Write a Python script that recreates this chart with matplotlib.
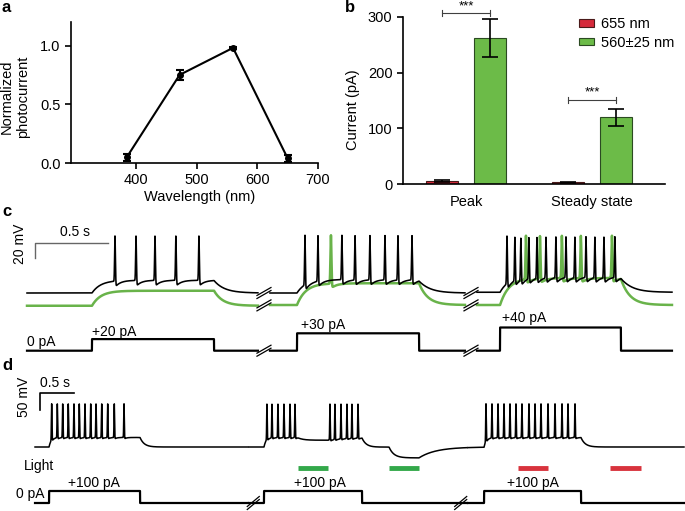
import numpy as np
import matplotlib.pyplot as plt

plt.rcParams['font.family'] = ['Liberation Sans', 'DejaVu Sans']
plt.rcParams['font.size'] = 10

# ---------------- data ----------------
# panel a: action spectrum
wavelength = [385, 472, 560, 650]
photocurrent = [0.05, 0.75, 0.98, 0.04]
photocurrent_err = [0.03, 0.04, 0.01, 0.03]

# panel b: photocurrents
groups = ['Peak', 'Steady state']
red_current = [5, 3]
red_err = [1.5, 1.0]
green_current = [262, 120]
green_err = [34, 15]
sig_level = [307, 151]

# panel c: current clamp, 3 sweeps (s, mV, pA)
c_start = [0.185, 1.849, 3.267]
c_end = [1.767, 3.185, 4.603]
c_step_on = [0.630, 2.034, 3.425]
c_step_off = [1.466, 2.870, 4.253]
c_step_pA = [20, 30, 40]
c_black_rest = [-60, -60, -59]
c_black_plateau = [-43, -42, -38]
c_green_rest = [-77, -76, -76]
c_green_plateau = [-57, -47, -40]
c_black_spikes = [
    [0.788, 0.932, 1.062, 1.205, 1.363],
    [2.089, 2.178, 2.342, 2.432, 2.534, 2.637, 2.726, 2.822],
    [3.473, 3.527, 3.568, 3.623, 3.678, 3.740, 3.808, 3.877, 3.938, 4.014,
     4.075, 4.137, 4.212],
]
c_green_spikes = [
    [],
    [2.267],
    [3.603, 3.699, 3.849, 3.979, 4.192],
]
c_spike_peak = 17

# panel d: current clamp with light, 3 sweeps
d_start = [0.515, 3.662, 6.882]
d_end = [3.647, 6.868, 10.059]
d_step_on = [0.721, 3.882, 7.118]
d_step_off = [2.059, 5.324, 8.544]
d_step_pA = [100, 100, 100]
d_rest = -70
d_plateau = -42
d_spike_peak = 57
d_spikes = [
    [0.760, 0.843, 0.922, 1.004, 1.088, 1.166, 1.250, 1.334, 1.412, 1.496,
     1.584, 1.681, 1.824],
    [3.926, 4.000, 4.088, 4.176, 4.265, 4.338,
     4.853, 4.926, 5.015, 5.103, 5.176, 5.265],
    [7.147, 7.235, 7.324, 7.412, 7.500, 7.588, 7.676, 7.779, 7.868, 7.956,
     8.059, 8.162, 8.265, 8.353, 8.456],
]
green_light_on = [4.382, 5.721]
green_light_off = [4.824, 6.162]
green_light_shift = [-8, -32]
red_light_on = [7.618, 8.971]
red_light_off = [8.059, 9.426]

GREEN_BAR = '#6cbb48'
RED_BAR = '#d52a3b'
GREEN_TRACE = '#69b34a'
GREEN_LIGHT = '#33a84a'
RED_LIGHT = '#d8333d'

W, H = 685, 511
fig = plt.figure(figsize=(W / 100, H / 100), dpi=100)


def box(x0, y0, x1, y1):
    return [x0 / W, 1 - y1 / H, (x1 - x0) / W, (y1 - y0) / H]


def ptext(x, y, s, **kw):
    fig.text(x / W, 1 - y / H, s, **kw)


def pulse(t, on, off, amp, tau_on, tau_off):
    y = np.zeros_like(t)
    m1 = (t >= on) & (t < off)
    y[m1] = amp * (1 - np.exp(-(t[m1] - on) / tau_on))
    a_off = amp * (1 - np.exp(-(off - on) / tau_on))
    m2 = t >= off
    y[m2] = a_off * np.exp(-(t[m2] - off) / tau_off)
    return y


def add_spikes(t, base, times, peak, ahp, w, tau):
    v = base.copy()
    for ts in times:
        vb = np.interp(ts, t, base)
        v += (peak - vb) * np.exp(-((t - ts) / w) ** 2)
        m = t > ts
        v[m] -= ahp * np.exp(-(t[m] - ts) / tau)
    return v


# ---------------- panel a ----------------
ax_a = fig.add_axes(box(71, 22, 318, 163))
ax_a.errorbar(wavelength, photocurrent, yerr=photocurrent_err, fmt='-o',
              color='k', ms=4, lw=1.5, elinewidth=1.5, capsize=3, capthick=1.5)
ax_a.set_xlim(293, 700)
ax_a.set_ylim(0, 1.2)
ax_a.set_xticks([400, 500, 600, 700])
ax_a.set_yticks([0, 0.5, 1.0])
ax_a.set_yticklabels(['0.0', '0.5', '1.0'])
for s in ['top', 'right']:
    ax_a.spines[s].set_visible(False)
for s in ['left', 'bottom']:
    ax_a.spines[s].set_linewidth(1.2)
ax_a.tick_params(width=1.2, length=4, labelsize=10.5)
ptext(200, 197, 'Wavelength (nm)', ha='center', va='center', fontsize=10.5)
ptext(15, 97, 'Normalized\nphotocurrent', ha='center', va='center',
      rotation=90, multialignment='center', fontsize=10.5)

# ---------------- panel b ----------------
ax_b = fig.add_axes(box(403, 17, 665, 184))
x = np.arange(len(groups))
off, wid = 0.19, 0.254
ekw = dict(lw=1.2, capthick=1.2)
ax_b.bar(x - off, red_current, wid, yerr=red_err, color=RED_BAR,
         edgecolor='#4a1a1a', lw=0.8, capsize=6, error_kw=ekw, label='655 nm')
ax_b.bar(x + off, green_current, wid, yerr=green_err, color=GREEN_BAR,
         edgecolor='#2b4a22', lw=0.8, capsize=6, error_kw=ekw,
         label='560\u00b125 nm')
for xi, yl in zip(x, sig_level):
    ax_b.plot([xi - off, xi + off], [yl, yl], color='0.25', lw=0.8,
              clip_on=False)
    for xe in (xi - off, xi + off):
        ax_b.plot([xe, xe], [yl - 5, yl + 5], color='0.25', lw=0.8,
                  clip_on=False)
    ax_b.text(xi, yl + 2, '***', ha='center', va='bottom', fontsize=9.5)
ax_b.set_xlim(-0.5, 1.58)
ax_b.set_ylim(0, 300)
ax_b.set_yticks([0, 100, 200, 300])
ax_b.set_xticks(x)
ax_b.set_xticklabels(groups)
ax_b.tick_params(axis='x', length=0, pad=8, labelsize=10.5)
ax_b.tick_params(axis='y', width=1.2, length=4, labelsize=10.5)
for s in ['top', 'right']:
    ax_b.spines[s].set_visible(False)
for s in ['left', 'bottom']:
    ax_b.spines[s].set_linewidth(1.2)
ax_b.legend(loc='upper left', bbox_to_anchor=(572 / W, 1 - 10 / H),
            bbox_transform=fig.transFigure, frameon=False, borderpad=0,
            handlelength=1.0, handleheight=0.45, handletextpad=0.5,
            labelspacing=0.3, fontsize=10.5)
ptext(353, 110, 'Current (pA)', ha='center', va='center', rotation=90,
      fontsize=10.5)


def break_mark(ax, xc, yc, sx, sy, wpx=14, hpx=8, gap=3, color='k'):
    for k in (-1, 1):
        dy = k * gap / 2
        ax.plot([xc - wpx / 2 / sx, xc + wpx / 2 / sx],
                [yc - (hpx / 2 - dy) / sy, yc + (hpx / 2 + dy) / sy],
                color=color, lw=0.9, clip_on=False)


# ---------------- panel c ----------------
CX = 146.0   # px per s
CY = 0.75    # px per mV
ax_cv = fig.add_axes(box(0, 222, 685, 316))
ax_cv.set_xlim(0, W / CX)
ax_cv.set_ylim(-60 - 23 / CY, -60 + 71 / CY)
ax_cv.axis('off')
ax_ci = fig.add_axes(box(0, 316, 685, 356))
ax_ci.set_xlim(0, W / CX)
ax_ci.set_ylim(-5.3 / 0.58, 34.7 / 0.58)
ax_ci.axis('off')

for i in range(3):
    t = np.arange(c_start[i], c_end[i], 0.0005)
    gb = c_green_rest[i] + pulse(t, c_step_on[i], c_step_off[i],
                                 c_green_plateau[i] - c_green_rest[i], 0.06, 0.06)
    gv = add_spikes(t, gb, c_green_spikes[i], c_spike_peak, 6, 0.005, 0.04)
    ax_cv.plot(t, gv, color=GREEN_TRACE, lw=1.8)
    bb = c_black_rest[i] + pulse(t, c_step_on[i], c_step_off[i],
                                 c_black_plateau[i] - c_black_rest[i], 0.06, 0.07)
    bv = add_spikes(t, bb, c_black_spikes[i], c_spike_peak, 8, 0.004, 0.035)
    ax_cv.plot(t, bv, color='k', lw=1.15)
    cur = np.where((t >= c_step_on[i]) & (t < c_step_off[i]), c_step_pA[i], 0)
    ax_ci.plot(t, cur, color='k', lw=1.6)

for xb in [(c_end[0] + c_start[1]) / 2, (c_end[1] + c_start[2]) / 2]:
    break_mark(ax_cv, xb, -60, CX, CY)
    break_mark(ax_cv, xb, -76.5, CX, CY)
    break_mark(ax_ci, xb, 0, CX, 0.58)

# scale bar c
sb_y = -60 + 50 / CY
ax_cv.plot([0.240, 0.240, 0.740], [sb_y - 20, sb_y, sb_y], color='0.4', lw=1.0,
           clip_on=False)
ptext(75, 232, '0.5 s', ha='center', va='center')
ptext(20, 244, '20 mV', ha='center', va='center', rotation=90)
ptext(27, 342, '0 pA', ha='left', va='center')
ptext(92, 332, '+20 pA', ha='left', va='center')
ptext(301, 325, '+30 pA', ha='left', va='center')
ptext(502, 318, '+40 pA', ha='left', va='center')

# ---------------- panel d ----------------
DX = 68.0
DY = 0.34
ax_dv = fig.add_axes(box(0, 380, 685, 476))
ax_dv.set_xlim(0, W / DX)
ax_dv.set_ylim(d_rest - 29 / DY, d_rest + 67 / DY)
ax_dv.axis('off')
ax_di = fig.add_axes(box(0, 478, 685, 511))
ax_di.set_xlim(0, W / DX)
ax_di.set_ylim(-8 / 0.12, 25 / 0.12)
ax_di.axis('off')

for i in range(3):
    t = np.arange(d_start[i], d_end[i], 0.0005)
    base = d_rest + pulse(t, d_step_on[i], d_step_off[i],
                          d_plateau - d_rest, 0.03, 0.06)
    for on, offl, sh in zip(green_light_on, green_light_off, green_light_shift):
        base += pulse(t, on, offl, sh, 0.07, 0.25)
    v = add_spikes(t, base, d_spikes[i], d_spike_peak, 5, 0.006, 0.03)
    ax_dv.plot(t, v, color='k', lw=1.1)
    cur = np.where((t >= d_step_on[i]) & (t < d_step_off[i]), d_step_pA[i], 0)
    ax_di.plot(t, cur, color='k', lw=1.6)

light_y = d_rest - 21 / DY
ax_dv.hlines([light_y] * 2, green_light_on, green_light_off, color=GREEN_LIGHT,
             lw=3.5)
ax_dv.hlines([light_y] * 2, red_light_on, red_light_off, color=RED_LIGHT, lw=3.5)

for xb in [(d_end[0] + d_start[1]) / 2 + 0.07, (d_end[1] + d_start[2]) / 2 - 0.1]:
    break_mark(ax_di, xb, 0, DX, 0.12, wpx=12, hpx=10)

sb_y = d_rest + 54 / DY
ax_dv.plot([0.588, 0.588, 1.088], [sb_y - 50, sb_y, sb_y], color='k', lw=1.2,
           clip_on=False)
ptext(55, 383, '0.5 s', ha='center', va='center')
ptext(24, 397, '50 mV', ha='center', va='center', rotation=90)
ptext(24, 466, 'Light', ha='left', va='center')
ptext(44, 494, '0 pA', ha='right', va='center')
for xl in [68, 294, 507]:
    ptext(xl, 483, '+100 pA', ha='left', va='center')

# panel letters
for lx, ly, lab in [(2, 12, 'a'), (345, 12, 'b'), (2, 216, 'c'), (2, 370, 'd')]:
    ptext(lx, ly, lab, fontweight='bold', fontsize=12, ha='left',
          va='baseline')

fig.savefig('out.png', dpi=100)
